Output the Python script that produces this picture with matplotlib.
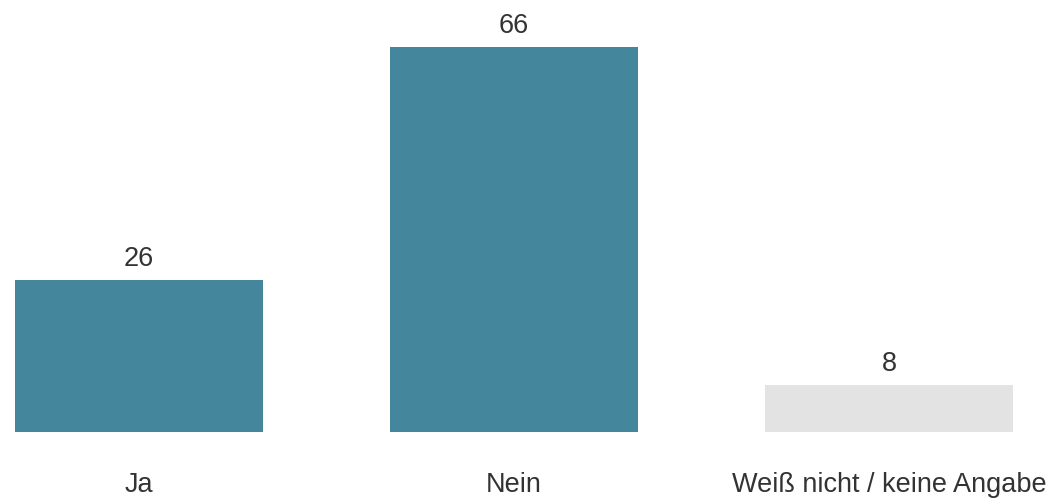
import matplotlib
matplotlib.use("Agg")
import matplotlib.pyplot as plt

categories = ["Ja", "Nein", "Weiß nicht / keine Angabe"]
values = [26, 66, 8]
bar_colors = ["#44879c", "#44879c", "#e3e3e3"]

plt.rcParams['font.family'] = ['Liberation Sans', 'DejaVu Sans']

fig = plt.figure(figsize=(10.54, 5.0), dpi=100)
ax = fig.add_axes([15 / 1054, 68 / 500, 998 / 1054, 385 / 500])

x = range(len(categories))
bars = ax.bar(x, values, width=0.66, color=bar_colors)

for rect, v in zip(bars, values):
    ax.annotate(str(v), (rect.get_x() + rect.get_width() / 2, rect.get_height()),
                xytext=(0, 6), textcoords="offset points", ha="center", va="bottom",
                fontsize=19.5, color="#333333")

ax.set_xlim(-0.33, 2.33)
ax.set_ylim(0, 66)
ax.set_xticks(list(x))
ax.set_xticklabels(categories, fontsize=19.5, color="#333333")
ax.tick_params(axis="x", length=0, pad=29)
ax.set_yticks([])
for s in ax.spines.values():
    s.set_visible(False)

fig.savefig("out.png", dpi=100)
